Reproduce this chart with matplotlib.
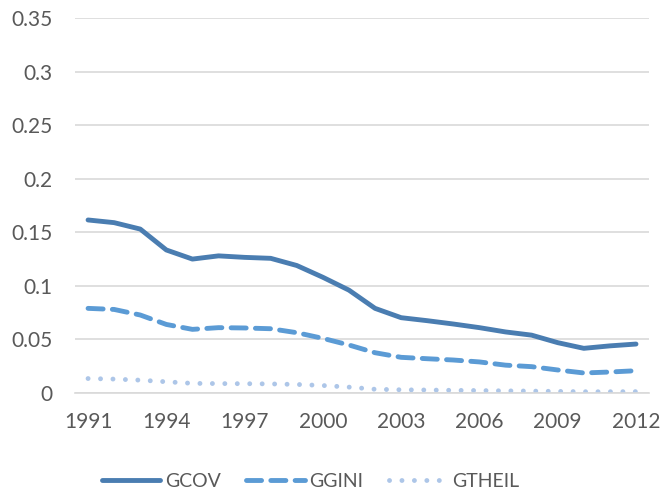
import matplotlib.pyplot as plt

years = list(range(1991, 2013))
gcov = [0.1615, 0.159, 0.153, 0.1335, 0.125, 0.128, 0.1266, 0.1257, 0.119, 0.108,
        0.096, 0.079, 0.0703, 0.0675, 0.0644, 0.061, 0.057, 0.054, 0.047, 0.0417,
        0.044, 0.0457]
ggini = [0.079, 0.078, 0.0728, 0.064, 0.0594, 0.061, 0.0607, 0.060, 0.0563, 0.051,
         0.0448, 0.0376, 0.0333, 0.032, 0.0308, 0.029, 0.026, 0.0246, 0.0215, 0.0187,
         0.0196, 0.0208]
gtheil = [0.0135, 0.013, 0.012, 0.0105, 0.009, 0.0088, 0.0087, 0.0085, 0.008, 0.007,
          0.0055, 0.0035, 0.003, 0.0028, 0.0025, 0.0023, 0.002, 0.0018, 0.0015, 0.0012,
          0.0012, 0.0013]
yticks = [0, 0.05, 0.1, 0.15, 0.2, 0.25, 0.3, 0.35]
ytick_labels = ["0", "0.05", "0.1", "0.15", "0.2", "0.25", "0.3", "0.35"]

plt.rcParams["font.family"] = ["Lato", "DejaVu Sans"]

fig = plt.figure(figsize=(6.65, 4.92), dpi=100)
ax = fig.add_axes([0.1128, 0.2012, 0.8632, 0.7622])

ax.plot(years, gcov, color="#4a7db1", lw=3.5, solid_capstyle="round", label="GCOV")
ax.plot(years, ggini, color="#5b9bd5", lw=3.5, dashes=(3.1, 1.9),
        dash_capstyle="round", label="GGINI")
ax.plot(years, gtheil, color="#adc6e8", lw=3.5, dashes=(0.01, 2.55),
        dash_capstyle="round", label="GTHEIL")

ax.set_xlim(1990.5, 2012.5)
ax.set_ylim(0, 0.35)
ax.set_yticks(yticks)
ax.set_yticklabels(ytick_labels)
ax.set_xticks(range(1991, 2013, 3))
ax.grid(axis="y", color="#d9d9d9", lw=1.2)
ax.set_axisbelow(True)
for s in ["top", "right", "left"]:
    ax.spines[s].set_visible(False)
ax.spines["bottom"].set_color("#d9d9d9")
ax.spines["bottom"].set_linewidth(1.2)
ax.tick_params(length=0, labelsize=15, colors="#595959")
ax.tick_params(axis="x", pad=14)
ax.tick_params(axis="y", pad=16)

fig.legend(loc="center", bbox_to_anchor=(0.467, 0.022), ncol=3, frameon=False,
           fontsize=14, handlelength=3.0, columnspacing=1.3, handletextpad=0.25,
           labelcolor="#595959")

fig.savefig("out.png", dpi=100)
